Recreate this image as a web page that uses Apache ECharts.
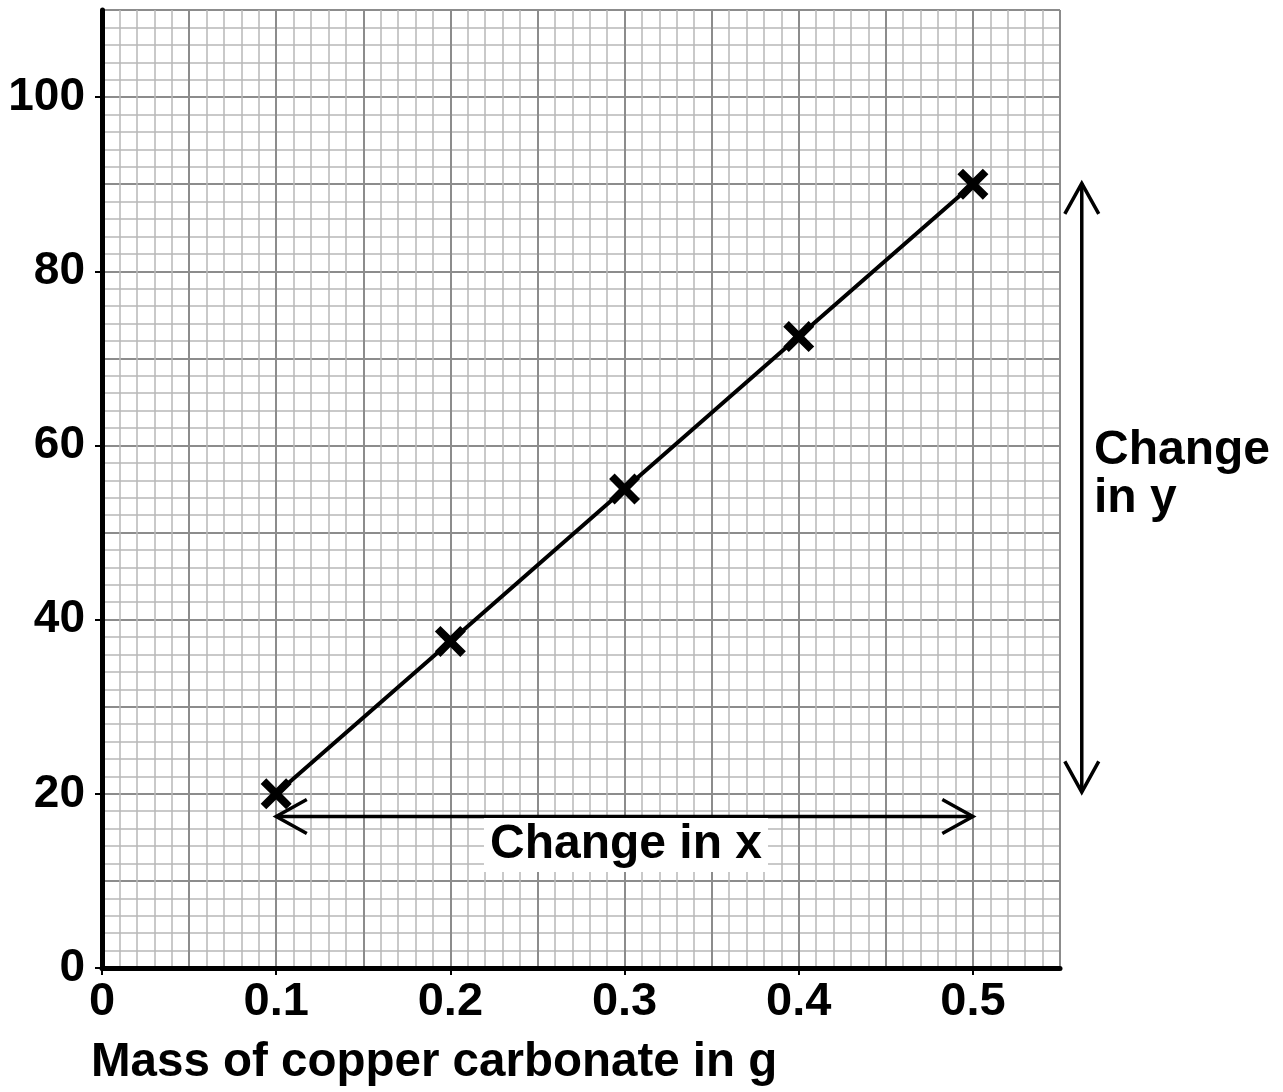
<!DOCTYPE html>
<html>
<head>
<meta charset="utf-8">
<script src="https://cdn.jsdelivr.net/npm/echarts@6/dist/echarts.min.js"></script>
<style>
html,body{margin:0;padding:0;background:#fff;}
#chart{width:1283px;height:1092px;}
</style>
</head>
<body>
<div id="chart"></div>
<script>
// ---- data ----
const massValues = [0.1, 0.2, 0.3, 0.4, 0.5];
const yValues = [20, 37.5, 55, 72.5, 90];
const xAxisTitle = 'Mass of copper carbonate in g';
const changeXArrow = [[0.1, 17.4, 0.5, 17.4]];
const changeYArrow = [[0.5625, 20.2, 0.5625, 90.1]];
const changeXLabel = 'Change in x';
const changeYLabel = 'Change\nin y';

const FONT = 'Liberation Sans, Arial, sans-serif';
const crossPath = 'path://M0,1.8L1.8,0L5,3.2L8.2,0L10,1.8L6.8,5L10,8.2L8.2,10L5,6.8L1.8,10L0,8.2L3.2,5Z';

const chart = echarts.init(document.getElementById('chart'));

function arrowRender(params, api) {
  const p1 = api.coord([api.value(0), api.value(1)]);
  const p2 = api.coord([api.value(2), api.value(3)]);
  const dx = p2[0] - p1[0], dy = p2[1] - p1[1];
  const len = Math.sqrt(dx * dx + dy * dy);
  const ux = dx / len, uy = dy / len;
  const headLen = 35, ang = 29 * Math.PI / 180;
  function head(tip, dirx, diry) {
    const c = Math.cos(ang), s = Math.sin(ang);
    const a = [tip[0] + headLen * (dirx * c - diry * s), tip[1] + headLen * (dirx * s + diry * c)];
    const b = [tip[0] + headLen * (dirx * c + diry * s), tip[1] + headLen * (-dirx * s + diry * c)];
    return { type: 'polyline', shape: { points: [a, tip, b] }, style: { stroke: '#000', lineWidth: 3.5, fill: null, lineJoin: 'miter' } };
  }
  return {
    type: 'group',
    children: [
      { type: 'line', shape: { x1: p1[0], y1: p1[1], x2: p2[0], y2: p2[1] }, style: { stroke: '#000', lineWidth: 3.5 } },
      head(p1, ux, uy),
      head(p2, -ux, -uy)
    ]
  };
}

const option = {
  backgroundColor: '#fff',
  animation: false,
  grid: { left: 102, right: 223, top: 10, bottom: 124, containLabel: false },
  xAxis: [
    {
      type: 'value', min: 0, max: 0.55, interval: 0.1, z: 5,
      axisLine: { show: true, onZero: false, lineStyle: { color: '#000', width: 5 } },
      axisTick: { show: true, length: 7, lineStyle: { color: '#000', width: 2 } },
      axisLabel: {
        margin: 11, color: '#000', fontSize: 47, fontWeight: 'bold', fontFamily: FONT,
        showMaxLabel: false,
        formatter: v => (Math.abs(v * 10 - Math.round(v * 10)) < 1e-6 ? (v === 0 ? '0' : v.toFixed(1)) : '')
      },
      splitLine: { show: false }
    },
    {
      type: 'value', min: 0, max: 0.55, interval: 0.05, position: 'bottom',
      axisLine: { show: false }, axisTick: { show: false }, axisLabel: { show: false },
      splitLine: { show: true, lineStyle: { color: '#8c8c8c', width: 2 } },
      minorTick: { show: false, splitNumber: 5 },
      minorSplitLine: { show: true, lineStyle: { color: '#b8b8b8', width: 1.5 } }
    }
  ],
  yAxis: [
    {
      type: 'value', min: 0, max: 110, interval: 20, z: 5,
      axisLine: { show: true, onZero: false, lineStyle: { color: '#000', width: 5 } },
      axisTick: { show: true, length: 7, lineStyle: { color: '#000', width: 2 } },
      axisLabel: {
        margin: 17, color: '#000', fontSize: 46, fontWeight: 'bold', fontFamily: FONT,
        showMaxLabel: false,
        formatter: v => (v % 20 === 0 ? String(v) : '')
      },
      splitLine: { show: false }
    },
    {
      type: 'value', min: 0, max: 110, interval: 10, position: 'left',
      axisLine: { show: false }, axisTick: { show: false }, axisLabel: { show: false },
      splitLine: { show: true, lineStyle: { color: '#8c8c8c', width: 2 } },
      minorTick: { show: false, splitNumber: 5 },
      minorSplitLine: { show: true, lineStyle: { color: '#b8b8b8', width: 1.5 } }
    }
  ],
  series: [
    {
      type: 'line',
      xAxisIndex: 0, yAxisIndex: 0,
      data: massValues.map((m, i) => [m, yValues[i]]),
      symbol: crossPath, symbolSize: 31, showSymbol: true,
      lineStyle: { color: '#000', width: 4 },
      itemStyle: { color: '#000', borderWidth: 0 },
      z: 4
    },
    {
      type: 'custom', xAxisIndex: 0, yAxisIndex: 0, clip: false,
      renderItem: arrowRender, data: changeXArrow, z: 3
    },
    {
      type: 'custom', xAxisIndex: 0, yAxisIndex: 0, clip: false,
      renderItem: arrowRender, data: changeYArrow, z: 3
    }
  ],
  graphic: [
    {
      type: 'text', x: 626, y: 845, z: 10,
      style: {
        text: changeXLabel, fill: '#000', font: 'bold 48px ' + FONT,
        align: 'center', verticalAlign: 'middle',
        backgroundColor: '#fff', padding: [2, 6, 4, 6]
      }
    },
    {
      type: 'text', x: 1094, y: 475, z: 10,
      style: {
        text: changeYLabel, fill: '#000', font: 'bold 48px ' + FONT,
        align: 'left', verticalAlign: 'middle', lineHeight: 48
      }
    },
    {
      type: 'text', x: 91, y: 1063, z: 10,
      style: {
        text: xAxisTitle, fill: '#000', font: 'bold 47.5px ' + FONT,
        align: 'left', verticalAlign: 'middle'
      }
    }
  ]
};
chart.setOption(option);
</script>
</body>
</html>
